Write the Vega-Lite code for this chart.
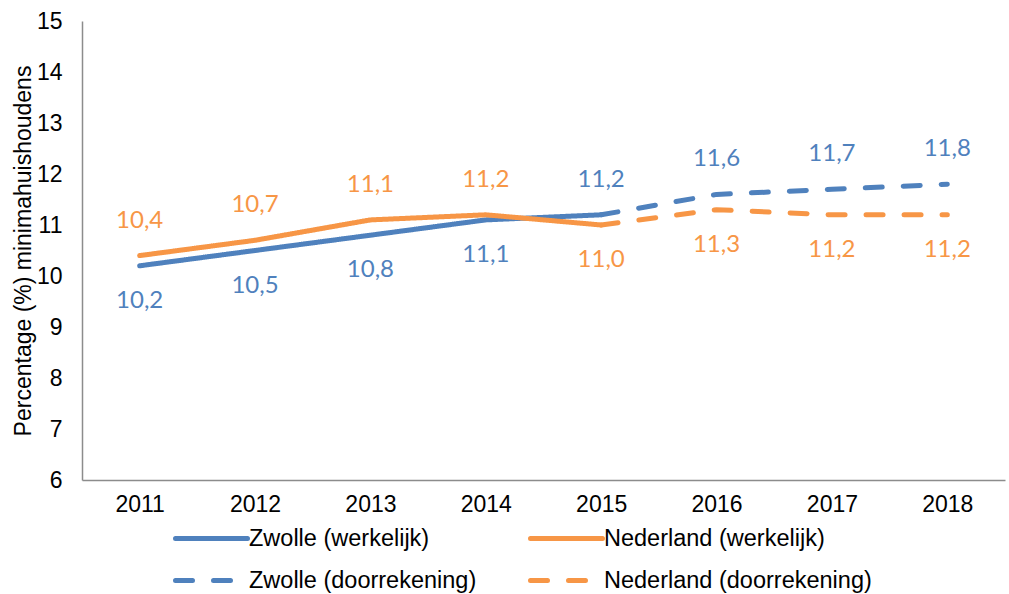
{
  "$schema": "https://vega.github.io/schema/vega-lite/v6.json",
  "width": 923,
  "height": 459,
  "autosize": {"type": "none"},
  "padding": {"left": 82, "top": 21, "right": 4, "bottom": 114},
  "background": "white",
  "config": {
    "locale": {"number": {"decimal": ",", "thousands": ".", "grouping": [3], "currency": ["€", ""]}},
    "view": {"stroke": null},
    "font": "Liberation Sans"
  },
  "data": {
    "values": [
      {"year": 2011, "value": 10.2, "series": "Zwolle (werkelijk)", "city": "Zwolle"},
      {"year": 2012, "value": 10.5, "series": "Zwolle (werkelijk)", "city": "Zwolle"},
      {"year": 2013, "value": 10.8, "series": "Zwolle (werkelijk)", "city": "Zwolle"},
      {"year": 2014, "value": 11.1, "series": "Zwolle (werkelijk)", "city": "Zwolle"},
      {"year": 2015, "value": 11.2, "series": "Zwolle (werkelijk)", "city": "Zwolle"},
      {"year": 2011, "value": 10.4, "series": "Nederland (werkelijk)", "city": "Nederland"},
      {"year": 2012, "value": 10.7, "series": "Nederland (werkelijk)", "city": "Nederland"},
      {"year": 2013, "value": 11.1, "series": "Nederland (werkelijk)", "city": "Nederland"},
      {"year": 2014, "value": 11.2, "series": "Nederland (werkelijk)", "city": "Nederland"},
      {"year": 2015, "value": 11.0, "series": "Nederland (werkelijk)", "city": "Nederland"},
      {"year": 2015, "value": 11.2, "series": "Zwolle (doorrekening)", "city": "Zwolle"},
      {"year": 2016, "value": 11.6, "series": "Zwolle (doorrekening)", "city": "Zwolle"},
      {"year": 2017, "value": 11.7, "series": "Zwolle (doorrekening)", "city": "Zwolle"},
      {"year": 2018, "value": 11.8, "series": "Zwolle (doorrekening)", "city": "Zwolle"},
      {"year": 2015, "value": 11.0, "series": "Nederland (doorrekening)", "city": "Nederland"},
      {"year": 2016, "value": 11.3, "series": "Nederland (doorrekening)", "city": "Nederland"},
      {"year": 2017, "value": 11.2, "series": "Nederland (doorrekening)", "city": "Nederland"},
      {"year": 2018, "value": 11.2, "series": "Nederland (doorrekening)", "city": "Nederland"}
    ]
  },
  "encoding": {
    "x": {
      "field": "year",
      "type": "ordinal",
      "scale": {"type": "point", "padding": 0.5},
      "axis": {
        "title": null,
        "labelAngle": 0,
        "labelFont": "Liberation Sans",
        "labelFontSize": 23,
        "labelColor": "#000000",
        "labelPadding": 13,
        "ticks": false,
        "tickSize": 0,
        "grid": false,
        "domainColor": "#8c8c8c",
        "domainWidth": 1.5
      }
    },
    "y": {
      "field": "value",
      "type": "quantitative",
      "scale": {"domain": [6, 15], "nice": false, "zero": false},
      "axis": {
        "title": "Percentage (%) minimahuishoudens",
        "titleFont": "Liberation Sans",
        "titleFontSize": 23,
        "titleFontWeight": "normal",
        "titleColor": "#000000",
        "titlePadding": 1,
        "values": [6, 7, 8, 9, 10, 11, 12, 13, 14, 15],
        "labelFont": "Liberation Sans",
        "labelFontSize": 23,
        "labelColor": "#000000",
        "labelPadding": 20,
        "ticks": false,
        "tickSize": 0,
        "grid": false,
        "domainColor": "#8c8c8c",
        "domainWidth": 1.5
      }
    }
  },
  "layer": [
    {
      "mark": {"type": "line", "strokeWidth": 5, "strokeCap": "round", "strokeJoin": "round"},
      "encoding": {
        "detail": {"field": "series"},
        "color": {
          "field": "series",
          "type": "nominal",
          "sort": ["Zwolle (werkelijk)", "Nederland (werkelijk)", "Zwolle (doorrekening)", "Nederland (doorrekening)"],
          "scale": {
            "domain": ["Zwolle (werkelijk)", "Nederland (werkelijk)", "Zwolle (doorrekening)", "Nederland (doorrekening)"],
            "range": ["#4f81bd", "#f79646", "#4f81bd", "#f79646"]
          },
          "legend": {
            "title": null,
            "orient": "none",
            "legendX": 115,
            "legendY": 503,
            "direction": "horizontal",
            "columns": 2,
            "columnPadding": 43,
            "rowPadding": 16,
            "symbolType": "M-3,0H3",
            "symbolSize": 576,
            "symbolStrokeWidth": 5,
            "labelFont": "Liberation Sans",
            "labelFontSize": 23.5,
            "labelColor": "#000000",
            "labelOffset": 23,
            "labelLimit": 400,
            "encode": {"symbols": {"update": {"strokeCap": {"value": "round"}, "fill": {"value": "transparent"}}}}
          }
        },
        "strokeDash": {
          "field": "series",
          "type": "nominal",
          "sort": ["Zwolle (werkelijk)", "Nederland (werkelijk)", "Zwolle (doorrekening)", "Nederland (doorrekening)"],
          "scale": {
            "domain": ["Zwolle (werkelijk)", "Nederland (werkelijk)", "Zwolle (doorrekening)", "Nederland (doorrekening)"],
            "range": [[1, 0], [1, 0], [17, 21], [17, 21]]
          },
          "legend": {
            "title": null,
            "orient": "none",
            "legendX": 115,
            "legendY": 503,
            "direction": "horizontal",
            "columns": 2,
            "columnPadding": 43,
            "rowPadding": 16,
            "symbolType": "M-3,0H3",
            "symbolSize": 576,
            "symbolStrokeWidth": 5,
            "labelFont": "Liberation Sans",
            "labelFontSize": 23.5,
            "labelColor": "#000000",
            "labelOffset": 23,
            "labelLimit": 400,
            "encode": {"symbols": {"update": {"strokeCap": {"value": "round"}, "fill": {"value": "transparent"}}}}
          }
        }
      }
    },
    {
      "transform": [{"filter": "datum.series === 'Zwolle (werkelijk)' && datum.year <= 2014"}],
      "mark": {"type": "text", "font": "Lato", "fontSize": 24, "color": "#4f81bd", "dy": 35},
      "encoding": {"text": {"field": "value", "type": "quantitative", "format": ".1f"}}
    },
    {
      "transform": [{"filter": "(datum.series === 'Zwolle (werkelijk)' && datum.year === 2015) || (datum.series === 'Zwolle (doorrekening)' && datum.year >= 2016)"}],
      "mark": {"type": "text", "font": "Lato", "fontSize": 24, "color": "#4f81bd", "dy": -35},
      "encoding": {"text": {"field": "value", "type": "quantitative", "format": ".1f"}}
    },
    {
      "transform": [{"filter": "datum.series === 'Nederland (werkelijk)' && datum.year <= 2014"}],
      "mark": {"type": "text", "font": "Lato", "fontSize": 24, "color": "#f79646", "dy": -35},
      "encoding": {"text": {"field": "value", "type": "quantitative", "format": ".1f"}}
    },
    {
      "transform": [{"filter": "(datum.series === 'Nederland (werkelijk)' && datum.year === 2015) || (datum.series === 'Nederland (doorrekening)' && datum.year >= 2016)"}],
      "mark": {"type": "text", "font": "Lato", "fontSize": 24, "color": "#f79646", "dy": 35},
      "encoding": {"text": {"field": "value", "type": "quantitative", "format": ".1f"}}
    }
  ]
}
